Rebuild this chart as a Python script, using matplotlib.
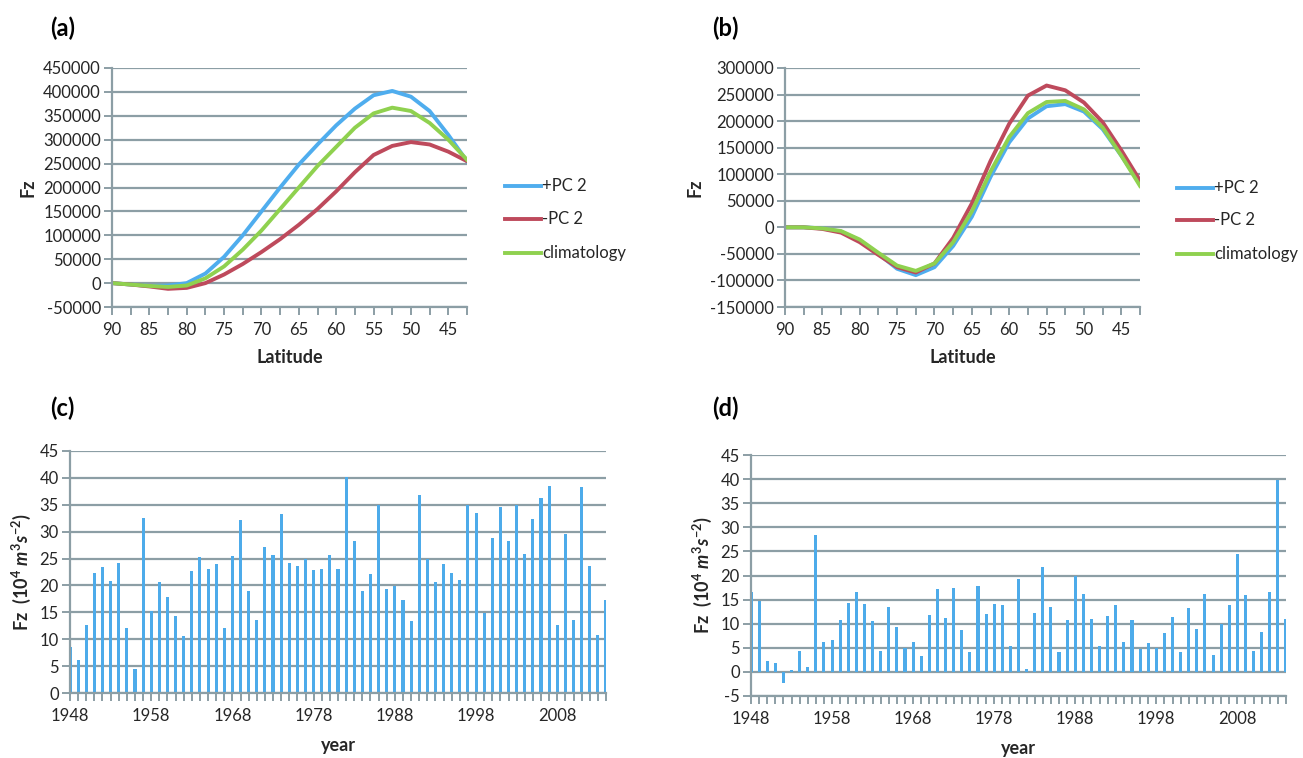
import matplotlib
matplotlib.use("Agg")
import matplotlib.pyplot as plt
import numpy as np

# ---------------- data ----------------
latitude = [90, 87.5, 85, 82.5, 80, 77.5, 75, 72.5, 70, 67.5, 65, 62.5, 60, 57.5, 55, 52.5, 50, 47.5, 45, 42.5]

a_plus = [0, -3000, -6000, -5000, 0, 20000, 55000, 100000, 150000, 200000, 248000, 290000,
          330000, 365000, 393000, 402000, 390000, 360000, 310000, 255000]
a_minus = [0, -3000, -7000, -12000, -10000, 0, 18000, 40000, 65000, 92000, 122000, 155000,
           192000, 232000, 268000, 287000, 295000, 290000, 275000, 255000]
a_clim = [0, -3000, -6000, -8000, -5000, 10000, 35000, 70000, 110000, 155000, 200000, 245000,
          285000, 325000, 355000, 367000, 360000, 335000, 300000, 258000]

b_plus = [0, 0, -2000, -8000, -25000, -50000, -78000, -90000, -75000, -35000, 20000, 95000,
          160000, 205000, 228000, 232000, 218000, 185000, 135000, 82000]
b_minus = [0, 0, -3000, -10000, -28000, -52000, -75000, -85000, -68000, -20000, 45000, 125000,
           195000, 248000, 267000, 258000, 235000, 198000, 145000, 88000]
b_clim = [0, 0, -2000, -7000, -23000, -48000, -72000, -82000, -68000, -28000, 30000, 105000,
          170000, 215000, 236000, 238000, 222000, 188000, 135000, 78000]

years = list(range(1948, 2015))
c_values = [8.6, 6.1, 12.6, 22.3, 23.4, 20.9, 24.2, 12.1, 4.4, 32.5,
            15.2, 20.7, 17.9, 14.3, 10.6, 22.6, 25.3, 23.0, 23.9, 12.1,
            25.5, 32.2, 19.0, 13.5, 27.1, 25.7, 33.3, 24.2, 23.7, 25.0,
            22.9, 23.0, 25.6, 23.0, 40.1, 28.2, 18.9, 22.1, 35.0, 19.4,
            19.9, 17.3, 13.3, 36.8, 24.9, 20.6, 23.9, 22.4, 21.1, 34.9,
            33.5, 14.9, 28.9, 34.5, 28.3, 35.0, 25.8, 32.3, 36.3, 38.4,
            12.7, 29.5, 13.5, 38.3, 23.7, 10.7, 17.3]
d_values = [16.6, 14.8, 2.3, 1.8, -2.2, 0.4, 4.3, 1.1, 28.5, 6.3,
            6.6, 10.8, 14.3, 16.5, 14.1, 10.5, 4.3, 13.5, 9.4, 5.0,
            6.3, 3.2, 11.9, 17.2, 11.1, 17.5, 8.7, 4.2, 17.9, 12.1,
            14.0, 13.9, 5.4, 19.2, 0.7, 12.2, 21.8, 13.4, 4.1, 10.8,
            19.9, 16.1, 10.9, 5.4, 11.6, 13.9, 6.1, 10.8, 4.8, 6.0,
            5.0, 8.0, 11.4, 4.1, 13.2, 9.0, 16.1, 3.5, 9.9, 13.9,
            24.4, 16.0, 4.4, 8.2, 16.6, 39.9, 11.0]

series_labels = ["+PC 2", "-PC 2", "climatology"]
lat_ticks = [90, 85, 80, 75, 70, 65, 60, 55, 50, 45]
year_ticks = [1948, 1958, 1968, 1978, 1988, 1998, 2008]

# ---------------- style ----------------
FONT = "Lato"
plt.rcParams["font.family"] = [FONT, "DejaVu Sans"]
plt.rcParams["axes.unicode_minus"] = False
plt.rcParams["mathtext.fontset"] = "custom"
plt.rcParams["mathtext.rm"] = "Lato:bold"
plt.rcParams["mathtext.it"] = "Lato:bold:italic"
plt.rcParams["mathtext.bf"] = "Lato:bold"

BLUE = "#4fadee"
RED = "#be4a5c"
GREEN = "#8fd14f"
BAR = "#4dabea"
GRID = "#8c9ea5"
TXT = "#262626"
TICK_FS = 12
LBL_FS = 13

W, H = 1303, 758
fig = plt.figure(figsize=(W / 100, H / 100), dpi=100)


def rect(l, r, t, b):
    return [l / W, 1 - b / H, (r - l) / W, (b - t) / H]


def style_axes(ax):
    for s in ["top", "right"]:
        ax.spines[s].set_visible(False)
    for s in ["left", "bottom"]:
        ax.spines[s].set_color(GRID)
        ax.spines[s].set_linewidth(1.6)
    ax.yaxis.grid(True, color=GRID, linewidth=1.6)
    ax.set_axisbelow(True)
    ax.tick_params(axis="both", which="both", colors=GRID, labelcolor=TXT,
                   labelsize=TICK_FS, width=1.4, direction="out")
    ax.tick_params(axis="y", length=6, pad=2)
    ax.tick_params(axis="x", which="major", length=6, pad=5)
    ax.tick_params(axis="x", which="minor", length=6)


def line_panel(rc, plus, minus, clim, ylim, yticks, legend_x, legend_ys, tag, tag_xy):
    ax = fig.add_axes(rect(*rc))
    ax.plot(latitude, plus, color=BLUE, lw=2.8, label=series_labels[0], solid_joinstyle="round")
    ax.plot(latitude, minus, color=RED, lw=2.8, label=series_labels[1], solid_joinstyle="round")
    ax.plot(latitude, clim, color=GREEN, lw=2.8, label=series_labels[2], solid_joinstyle="round")
    ax.set_xlim(90, 42.5)
    ax.set_ylim(*ylim)
    ax.set_yticks(yticks)
    ax.set_yticklabels([str(v) for v in yticks])
    ax.set_xticks(lat_ticks)
    ax.set_xticks(latitude, minor=True)
    ax.set_xticklabels([str(v) for v in lat_ticks])
    style_axes(ax)
    ax.set_xlabel("Latitude", fontsize=LBL_FS, fontweight="bold", color=TXT, labelpad=8)
    ax.set_ylabel("Fz", fontsize=LBL_FS, fontweight="bold", color=TXT, labelpad=5)
    # legend drawn manually in figure pixels
    for lbl, col, yy in zip(series_labels, [BLUE, RED, GREEN], legend_ys):
        fig.add_artist(plt.Line2D([legend_x / W, (legend_x + 36) / W],
                                  [1 - yy / H, 1 - yy / H], color=col, lw=2.8))
        fig.text((legend_x + 37) / W, 1 - yy / H, lbl, fontsize=12, color=TXT,
                 va="center", ha="left")
    fig.text(tag_xy[0] / W, 1 - tag_xy[1] / H, tag, fontsize=17, fontweight="bold",
             color="black", va="center", ha="left")
    return ax


line_panel((112, 467, 68, 307), a_plus, a_minus, a_clim, (-50000, 450000),
           list(range(-50000, 450001, 50000)), 505, [186, 219, 253], "(a)", (50, 28))
line_panel((785, 1140, 68, 307), b_plus, b_minus, b_clim, (-150000, 300000),
           list(range(-150000, 300001, 50000)), 1177, [188, 220, 254], "(b)", (712, 28))


def bar_panel(rc, values, ylim, tag, tag_xy):
    ax = fig.add_axes(rect(*rc))
    ax.bar(years, values, width=0.38, color=BAR, linewidth=0)
    ax.set_xlim(years[0], years[-1])
    ax.set_ylim(*ylim)
    yt = list(range(ylim[0], ylim[1] + 1, 5))
    ax.set_yticks(yt)
    ax.set_yticklabels([str(v) for v in yt])
    ax.set_xticks(year_ticks)
    ax.set_xticks(years, minor=True)
    ax.set_xticklabels([str(v) for v in year_ticks])
    style_axes(ax)
    ax.set_xlabel("year", fontsize=LBL_FS, fontweight="bold", color=TXT, labelpad=9)
    ax.set_ylabel(r"Fz  (10$^4$ $m^3s^{-2}$)", fontsize=LBL_FS, fontweight="bold",
                  color=TXT, labelpad=5)
    fig.text(tag_xy[0] / W, 1 - tag_xy[1] / H, tag, fontsize=17, fontweight="bold",
             color="black", va="center", ha="left")
    return ax


bar_panel((70, 606, 451, 693), c_values, (0, 45), "(c)", (50, 408))
bar_panel((751, 1286, 455, 696), d_values, (-5, 45), "(d)", (712, 408))

fig.savefig("out.png", dpi=100, facecolor="white")
